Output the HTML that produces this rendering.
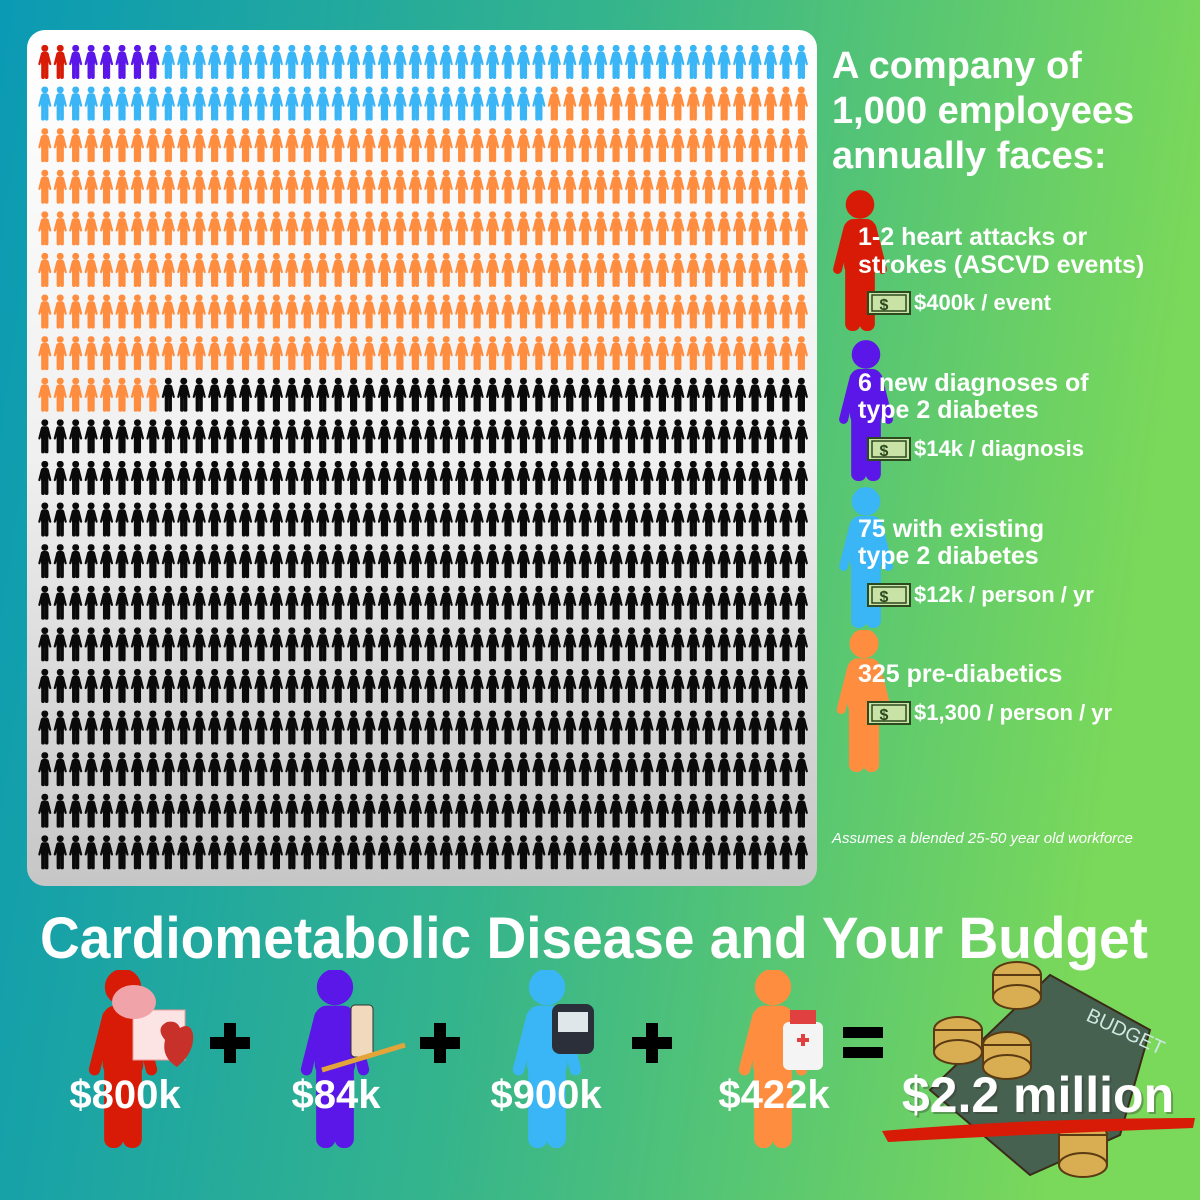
<!DOCTYPE html>
<html><head><meta charset="utf-8"><style>
html,body{margin:0;padding:0;width:1200px;height:1200px;overflow:hidden}
text{font-family:"Liberation Sans",sans-serif;font-weight:bold}
</style></head><body>
<svg id="root" width="1200" height="1200" viewBox="0 0 1200 1200" xmlns="http://www.w3.org/2000/svg">
<defs>
<linearGradient id="bg" x1="0" y1="0" x2="1" y2="0.15">
<stop offset="0" stop-color="#0a9ab4"/><stop offset="0.5" stop-color="#35b48c"/><stop offset="1" stop-color="#7ad85a"/>
</linearGradient>
<linearGradient id="panel" x1="0" y1="0" x2="0" y2="1">
<stop offset="0" stop-color="#ffffff"/><stop offset="0.5" stop-color="#f0f0f0"/><stop offset="1" stop-color="#c6c6c6"/>
</linearGradient>
<symbol id="person" viewBox="0 0 20 50">
<circle cx="10" cy="4.8" r="4.6"/>
<rect x="4.8" y="10.5" width="10.4" height="19" rx="3"/>
<line x1="5.8" y1="13" x2="2" y2="28" stroke-width="3.2" stroke-linecap="round"/>
<line x1="14.2" y1="13" x2="18" y2="28" stroke-width="3.2" stroke-linecap="round"/>
<rect x="5.2" y="26" width="4.4" height="23.5" rx="2"/>
<rect x="10.4" y="26" width="4.4" height="23.5" rx="2"/>
</symbol>
<symbol id="money" viewBox="0 0 44 24">
<rect x="1" y="1" width="42" height="22" fill="#c9e3a6" stroke="#2d4a1e" stroke-width="2"/>
<rect x="5" y="4" width="34" height="16" fill="none" stroke="#2d4a1e" stroke-width="1.5"/>
<text x="17" y="19" font-size="16" fill="#2d4a1e" text-anchor="middle">$</text>
</symbol>
</defs>
<rect width="1200" height="1200" fill="url(#bg)"/>
<rect x="27" y="30" width="790" height="856" rx="18" fill="url(#panel)"/>
<g id="grid"></g>

<g fill="#fff" font-size="38">
<text x="832" y="78">A company of</text>
<text x="832" y="123">1,000 employees</text>
<text x="832" y="168">annually faces:</text>
</g>

<g>
<use href="#person" x="832" y="190" width="56" height="142" fill="#d81b06" stroke="#d81b06"/>
<use href="#person" x="838" y="340" width="56" height="142" fill="#5b16e8" stroke="#5b16e8"/>
<use href="#person" x="838" y="487" width="56" height="142" fill="#3ab5f5" stroke="#3ab5f5"/>
<use href="#person" x="835" y="630" width="58" height="142" fill="#ff8d3f" stroke="#ff8d3f"/>
<g fill="#fff" font-size="25">
<text x="858" y="245">1-2 heart attacks or</text>
<text x="858" y="273">strokes (ASCVD events)</text>
<text x="914" y="310" font-size="22">$400k / event</text>
<text x="858" y="391">6 new diagnoses of</text>
<text x="858" y="418">type 2 diabetes</text>
<text x="914" y="456" font-size="22">$14k / diagnosis</text>
<text x="858" y="537">75 with existing</text>
<text x="858" y="564">type 2 diabetes</text>
<text x="914" y="602" font-size="22">$12k / person / yr</text>
<text x="858" y="682">325 pre-diabetics</text>
<text x="914" y="720" font-size="22">$1,300 / person / yr</text>
</g>
<use href="#money" x="867" y="291" width="44" height="24"/>
<use href="#money" x="867" y="437" width="44" height="24"/>
<use href="#money" x="867" y="583" width="44" height="24"/>
<use href="#money" x="867" y="701" width="44" height="24"/>
<text x="832" y="843" fill="#fff" font-size="15" style="font-style:italic;font-weight:normal">Assumes a blended 25-50 year old workforce</text>
</g>

<text x="594" y="958" fill="#fff" font-size="58" text-anchor="middle" textLength="1108" lengthAdjust="spacingAndGlyphs">Cardiometabolic Disease and Your Budget</text>

<g>
<use href="#person" x="87" y="970" width="72" height="178" fill="#d81b06" stroke="#d81b06"/>
<rect x="133" y="1010" width="52" height="50" fill="#fde4e4" stroke="#e99"/>
<ellipse cx="134" cy="1002" rx="22" ry="17" fill="#f0a3a8"/>
<path d="M165 1040 q-10 -12 2 -18 q10 -2 13 6 q10 -6 13 6 q2 18 -16 33 q-16 -10 -12 -27z" fill="#c8302a"/>
<use href="#person" x="299" y="970" width="72" height="178" fill="#5b16e8" stroke="#5b16e8"/>
<rect x="351" y="1005" width="22" height="52" rx="4" fill="#f0d9bc" stroke="#333"/>
<line x1="322" y1="1070" x2="405" y2="1045" stroke="#e3a43a" stroke-width="5"/>
<use href="#person" x="511" y="970" width="72" height="178" fill="#3ab5f5" stroke="#3ab5f5"/>
<rect x="552" y="1004" width="42" height="50" rx="8" fill="#2a2f3a"/>
<rect x="558" y="1012" width="30" height="20" fill="#dfe7ea"/>
<use href="#person" x="737" y="970" width="72" height="178" fill="#ff8d3f" stroke="#ff8d3f"/>
<rect x="783" y="1022" width="40" height="48" rx="6" fill="#f4f4f4"/>
<rect x="790" y="1010" width="26" height="14" fill="#e04040"/>
<path d="M797 1040 h12 M803 1034 v12" stroke="#e04040" stroke-width="4"/>
<g fill="#000">
<rect x="210" y="1037" width="40" height="12"/><rect x="224" y="1023" width="12" height="40"/>
<rect x="420" y="1037" width="40" height="12"/><rect x="434" y="1023" width="12" height="40"/>
<rect x="632" y="1037" width="40" height="12"/><rect x="646" y="1023" width="12" height="40"/>
<rect x="843" y="1027" width="40" height="11"/><rect x="843" y="1047" width="40" height="11"/>
</g>
<g fill="#fff" font-size="40" text-anchor="middle">
<text x="125" y="1108">$800k</text>
<text x="336" y="1108">$84k</text>
<text x="546" y="1108">$900k</text>
<text x="774" y="1108">$422k</text>
</g>
<g>
<path d="M930 1090 L1050 975 L1150 1030 L1120 1135 L1030 1175 Z" fill="#46614f" stroke="#3a2a1a" stroke-width="2"/>
<text x="1085" y="1020" fill="#cfe7df" font-size="20" style="font-weight:normal" transform="rotate(25 1085 1020)">BUDGET</text>
<g fill="#d9ad52" stroke="#5a3a12" stroke-width="2">
<ellipse cx="1017" cy="975" rx="24" ry="13"/><rect x="993" y="975" width="48" height="22"/><ellipse cx="1017" cy="997" rx="24" ry="12"/>
<ellipse cx="958" cy="1030" rx="24" ry="13"/><rect x="934" y="1030" width="48" height="22"/><ellipse cx="958" cy="1052" rx="24" ry="12"/>
<ellipse cx="1007" cy="1045" rx="24" ry="13"/><rect x="983" y="1045" width="48" height="22"/><ellipse cx="1007" cy="1067" rx="24" ry="12"/>
<ellipse cx="1083" cy="1135" rx="24" ry="13"/><rect x="1059" y="1135" width="48" height="30"/><ellipse cx="1083" cy="1165" rx="24" ry="12"/>
</g>
</g>
<text x="1040" y="1114" fill="#333" fill-opacity="0.35" font-size="50" text-anchor="middle">$2.2 million</text>
<text x="1038" y="1112" fill="#fff" font-size="50" text-anchor="middle">$2.2 million</text>
<path d="M882 1131 Q1030 1118 1195 1118 L1193 1128 Q1030 1134 888 1142 Z" fill="#d81b06"/>
</g>
</svg>
<script>
const categories = ["ASCVD events","New T2D diagnoses","Existing T2D","Pre-diabetics","Healthy"];
const counts = [2, 6, 75, 325, 592];
const colors = ["#d81b06","#5b16e8","#3ab5f5","#ff8d3f","#0a0a0a"];
const perRow = 50;
const NS = "http://www.w3.org/2000/svg";
const g = document.getElementById("grid");
function colX(c){ return 38 + c * 15.44; }
function rowY(r){ return 45 + r * 41.6; }
let idx = 0;
counts.forEach((n, k) => {
  for (let i = 0; i < n; i++) {
    const u = document.createElementNS(NS, "use");
    u.setAttribute("href", "#person");
    u.setAttribute("x", colX(idx % perRow));
    u.setAttribute("y", rowY(Math.floor(idx / perRow)));
    u.setAttribute("width", 13.6);
    u.setAttribute("height", 34);
    u.setAttribute("fill", colors[k]);
    u.setAttribute("stroke", colors[k]);
    
    
    g.appendChild(u);
    idx++;
  }
});
</script>
</body></html>
